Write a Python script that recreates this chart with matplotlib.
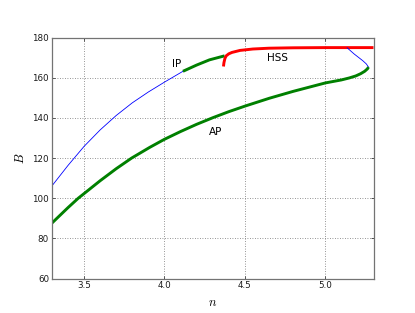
import numpy as np
import matplotlib
matplotlib.use('Agg')
import matplotlib.pyplot as plt

plt.rcParams['mathtext.fontset'] = 'cm'
plt.rcParams['font.family'] = 'DejaVu Sans'

# IP branch, unstable part (thin blue)
ip_n = [3.30, 3.40, 3.50, 3.60, 3.70, 3.80, 3.90, 4.00, 4.115]
ip_B = [106.1, 116.3, 125.8, 134.0, 141.2, 147.5, 152.9, 157.8, 163.2]
# IP branch, stable part (thick green)
ips_n = [4.115, 4.20, 4.28, 4.374]
ips_B = [163.2, 166.3, 168.9, 170.9]

# HSS branch (red)
hss_n = [4.367, 4.370, 4.376, 4.384, 4.40, 4.42, 4.47, 4.55, 4.65, 4.80, 5.00, 5.30]
hss_B = [165.6, 167.5, 169.6, 170.9, 171.9, 172.6, 173.6, 174.3, 174.7, 174.9, 175.0, 175.0]

# AP branch, unstable part near the fold (thin blue)
apu_n = [5.136, 5.18, 5.233, 5.255, 5.269]
apu_B = [174.9, 171.8, 168.5, 166.9, 165.3]
# AP branch, stable (thick green)
ap_n = [5.269, 5.262, 5.245, 5.22, 5.19, 5.15, 5.10, 5.00, 4.80, 4.653, 4.502,
        4.40, 4.301, 4.20, 4.10, 3.999, 3.908, 3.796, 3.70, 3.60, 3.50, 3.464, 3.40, 3.30]
ap_B = [165.3, 164.4, 163.2, 162.0, 160.9, 159.9, 158.9, 157.4, 153.2, 149.8, 145.9,
        143.1, 140.1, 136.8, 133.2, 129.3, 125.3, 120.0, 114.7, 108.7, 102.3, 100.0, 95.3, 87.6]

fig = plt.figure(figsize=(4.15, 3.13), dpi=100)
ax = fig.add_subplot(111)

ax.plot(ip_n, ip_B, color='blue', lw=0.6)
ax.plot(ips_n, ips_B, color='green', lw=2.1, solid_capstyle='butt')
ax.plot(hss_n, hss_B, color='red', lw=2.1, solid_capstyle='butt')
ax.plot(apu_n, apu_B, color='blue', lw=0.6)
ax.plot(ap_n, ap_B, color='green', lw=2.1, solid_capstyle='butt')

ax.text(4.073, 166.9, 'IP', fontsize=7.5, ha='center', va='center')
ax.text(4.70, 169.8, 'HSS', fontsize=7.5, ha='center', va='center')
ax.text(4.316, 133.0, 'AP', fontsize=7.5, ha='center', va='center')

ax.set_xlim(3.3, 5.3)
ax.set_ylim(60, 180)
ax.set_xticks([3.5, 4.0, 4.5, 5.0])
ax.set_yticks([60, 80, 100, 120, 140, 160, 180])
ax.grid(True, color='0.45', linestyle=(0, (1, 2)), linewidth=0.6)
ax.tick_params(direction='in', length=2.5, width=0.5, labelsize=6.3, pad=2,
               top=True, right=True, colors='0.1')
for s in ax.spines.values():
    s.set_color('0.45')
    s.set_linewidth(0.9)
ax.set_xlabel('$n$', fontsize=9)
ax.set_ylabel('$B$', fontsize=9)

plt.savefig('out.png', dpi=100)
